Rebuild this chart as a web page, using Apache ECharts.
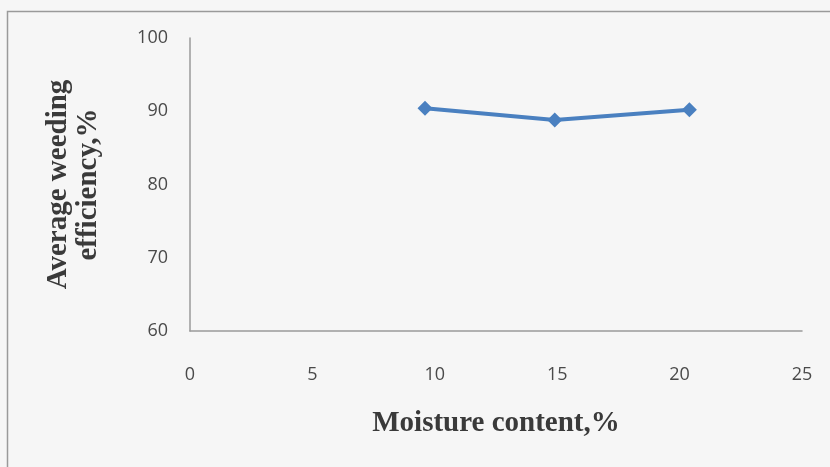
<!DOCTYPE html>
<html>
<head>
<meta charset="utf-8">
<script src="https://cdn.jsdelivr.net/npm/echarts@6/dist/echarts.min.js"></script>
<style>
  html, body { margin: 0; padding: 0; background: #f6f6f6; }
  #chart { width: 830px; height: 467px; }
</style>
</head>
<body>
<div id="chart"></div>
<script>
// Moisture content (%) and the average weeding efficiency (%) measured at each level
const moisture = [9.6, 14.9, 20.4];
const efficiency = [90.4, 88.8, 90.2];

const xTicks = { min: 0, max: 25, interval: 5 };
const yTicks = { min: 60, max: 100, interval: 10 };

const chart = echarts.init(document.getElementById('chart'));
const tickFont = { fontFamily: '"Open Sans", Lato, sans-serif', fontSize: 18, color: '#4a4a4a' };
const titleFont = { fontFamily: '"Liberation Serif", "Times New Roman", serif', fontSize: 29, fontWeight: 'bold', color: '#3a3a3a' };

chart.setOption({
  backgroundColor: '#f6f6f6',
  animation: false,
  grid: { left: 190, right: 28, top: 38, bottom: 136, containLabel: false },
  graphic: [
    {
      type: 'rect',
      shape: { x: 7.5, y: 11.5, width: 900, height: 600 },
      style: { fill: 'none', stroke: '#9a9a9a', lineWidth: 1.5 },
      silent: true
    }
  ],
  xAxis: {
    type: 'value',
    min: xTicks.min, max: xTicks.max, interval: xTicks.interval,
    name: 'Moisture content,%',
    nameLocation: 'middle',
    nameGap: 78,
    nameTextStyle: titleFont,
    axisLine: { show: true, lineStyle: { color: '#9a9a9a', width: 1.5 } },
    axisTick: { show: false },
    axisLabel: Object.assign({ margin: 35 }, tickFont),
    splitLine: { show: false }
  },
  yAxis: {
    type: 'value',
    min: yTicks.min, max: yTicks.max, interval: yTicks.interval,
    name: 'Average weeding\nefficiency,%',
    nameLocation: 'middle',
    nameRotate: 90,
    nameGap: 86,
    nameTextStyle: Object.assign({ lineHeight: 30 }, titleFont),
    axisLine: { show: true, lineStyle: { color: '#9a9a9a', width: 1.5 } },
    axisTick: { show: false },
    axisLabel: Object.assign({ margin: 22 }, tickFont),
    splitLine: { show: false }
  },
  series: [
    {
      type: 'line',
      data: moisture.map((m, i) => [m, efficiency[i]]),
      symbol: 'diamond',
      symbolSize: 15,
      lineStyle: { color: '#4a80c0', width: 4 },
      itemStyle: { color: '#4a80c0' }
    }
  ]
});
</script>
</body>
</html>
